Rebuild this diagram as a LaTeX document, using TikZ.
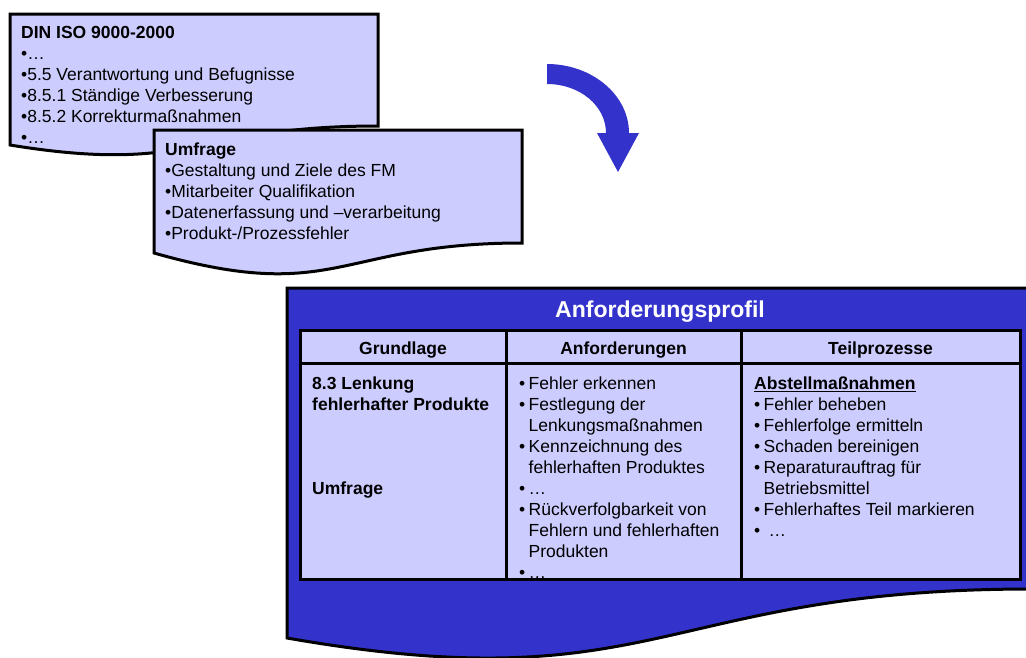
\documentclass[tikz,border=0pt]{standalone}
\usepackage{fontspec}
\setmainfont{Liberation Sans}
\definecolor{paper}{HTML}{CCCCFF}
\definecolor{ink}{HTML}{3333CC}
% bullet with hanging indent, and the indent alone for wrapped lines
\newcommand\bulitem{\makebox[9.5pt][l]{•}}
\newcommand\contline{\hspace*{9.5pt}}
\begin{document}
\begin{tikzpicture}[x=1pt,y=-1pt,
  outline/.style={draw=black,line width=3pt,line join=miter},
  docshape/.style={outline,fill=paper},
  txt/.style={inner sep=0pt,anchor=base west,font=\fontsize{17.5}{21}\selectfont},
  head/.style={inner sep=0pt,anchor=base,font=\fontsize{17.5}{21}\selectfont\bfseries},
  grid/.style={draw=black,line width=3pt}]
\useasboundingbox (0,0) rectangle (1026,657);

% standard sheet
\draw[docshape] (10,14) -- (378,14) -- (378,126)
  .. controls (194,126) and (194,175) .. (10,145) -- cycle;
\foreach \t [count=\i from 0] in {{\bfseries DIN ISO 9000-2000},•…,•5.5 Verantwortung und Befugnisse,•8.5.1 Ständige Verbesserung,•8.5.2 Korrekturmaßnahmen,•…}
  \node[txt] (din-\i) at (21,38+21*\i) {\t};

% survey sheet
\draw[docshape] (154,130) -- (522,130) -- (522,243)
  .. controls (337,243) and (337,305) .. (154,253) -- cycle;
\foreach \t [count=\i from 0] in {{\bfseries Umfrage},•Gestaltung und Ziele des FM,•Mitarbeiter Qualifikation,•Datenerfassung und –verarbeitung,•Produkt-/Prozessfehler}
  \node[txt] (umf-\i) at (165,155+21*\i) {\t};

% curved arrow
\fill[ink] (547,64) .. controls (592,64) and (629,95) .. (629,133)
  -- (639,133) -- (618,172) -- (597,133) -- (606,133)
  .. controls (606,106) and (580,84) .. (547,84) -- cycle;

% profile sheet
\draw[outline,fill=ink] (287,288) -- (1032,288) -- (1032,589)
  .. controls (659,589) and (659,703) .. (287,638) -- cycle;
\node[inner sep=0pt,anchor=base,text=white,font=\fontsize{23}{27}\selectfont\bfseries]
  (title) at (660,317) {Anforderungsprofil};

% table body
\fill[paper] (300,330) rectangle (1020,579);
\node[head] (h1) at (403,354) {Grundlage};
\node[head] (h2) at (623.5,354) {Anforderungen};
\node[head] (h3) at (880.5,354) {Teilprozesse};

\node[txt,font=\fontsize{17.5}{21}\selectfont\bfseries] (g1) at (312,389.5) {8.3 Lenkung};
\node[txt,font=\fontsize{17.5}{21}\selectfont\bfseries] (g2) at (312,410.5) {fehlerhafter Produkte};
\node[txt,font=\fontsize{17.5}{21}\selectfont\bfseries] (g3) at (312,494.5) {Umfrage};

\begin{scope}
  \clip (300,330) rectangle (1020,579);
  \foreach \t [count=\i from 0] in {\bulitem Fehler erkennen,\bulitem Festlegung der,\contline Lenkungsmaßnahmen,\bulitem Kennzeichnung des,\contline fehlerhaften Produktes,\bulitem …,\bulitem Rückverfolgbarkeit von,\contline Fehlern und fehlerhaften,\contline Produkten,\bulitem …}
    \node[txt] (anf-\i) at (519,389.5+21*\i) {\t};
  \foreach \t [count=\i from 0] in {{\bfseries\underline{Abstellmaßnahmen}},\bulitem Fehler beheben,\bulitem Fehlerfolge ermitteln,\bulitem Schaden bereinigen,\bulitem Reparaturauftrag für,\contline Betriebsmittel,\bulitem Fehlerhaftes Teil markieren,\bulitem\hspace{5pt}…}
    \node[txt] (tp-\i) at (754,389.5+21*\i) {\t};
\end{scope}

% table rules
\draw[grid] (300,330) rectangle (1020,579);
\draw[grid] (300,363) -- (1020,363);
\draw[grid] (506,330) -- (506,579);
\draw[grid] (741,330) -- (741,579);
\end{tikzpicture}
\end{document}
